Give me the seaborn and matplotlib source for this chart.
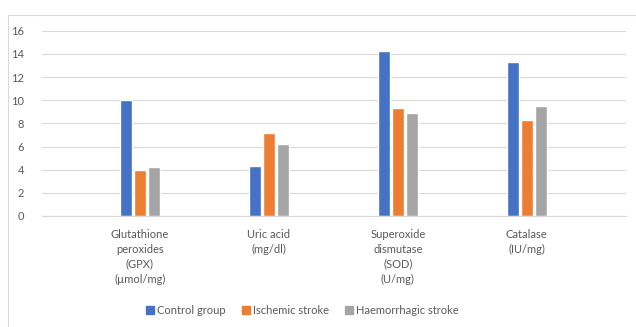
import matplotlib
matplotlib.use("Agg")
import matplotlib.pyplot as plt
import matplotlib.lines as mlines
import seaborn as sns
import pandas as pd

# Data
categories = [
    "Glutathione\nperoxides\n(GPX)\n(\u00b5mol/mg)",
    "Uric acid\n(mg/dl)",
    "Superoxide\ndismutase\n(SOD)\n(U/mg)",
    "Catalase\n(IU/mg)",
]
groups = ["Control group", "Ischemic stroke", "Haemorrhagic stroke"]
control = [10.0, 4.33, 14.25, 13.3]
ischemic = [4.0, 7.2, 9.3, 8.33]
haemorrhagic = [4.2, 6.23, 8.9, 9.5]
colors = ["#4472C4", "#ED7D31", "#A5A5A5"]

rows = []
for grp, vals in zip(groups, [control, ischemic, haemorrhagic]):
    for cat, v in zip(categories, vals):
        rows.append({"category": cat, "group": grp, "value": v})
df = pd.DataFrame(rows)

sns.set_style("white")
plt.rcParams["font.family"] = ["Lato", "DejaVu Sans"]

fig = plt.figure(figsize=(6.36, 3.27), dpi=100)
W, H = 636, 327
ax = fig.add_axes([42 / W, 111 / H, 584 / W, (216 - 30.7) / H])

sns.barplot(
    data=df,
    x="category",
    y="value",
    hue="group",
    hue_order=groups,
    palette=colors,
    width=0.33,
    gap=0.15,
    saturation=1,
    ax=ax,
    legend=False
)

ax.set_ylim(0, 16)
ax.set_xlim(-0.76, 3.77)
ax.set_yticks(range(0, 17, 2))
ax.yaxis.grid(True, color="#d9d9d9", linewidth=0.8)
ax.set_axisbelow(True)
for s in ["top", "right", "left"]:
    ax.spines[s].set_visible(False)
ax.spines["bottom"].set_color("#d9d9d9")
ax.spines["bottom"].set_linewidth(0.8)
ax.tick_params(axis="both", length=0, colors="#595959", labelsize=8)
ax.tick_params(axis="y", pad=13)
ax.tick_params(axis="x", pad=9)
for lbl in ax.get_xticklabels():
    lbl.set_linespacing(1.45)
ax.set_xlabel("")
ax.set_ylabel("")

# Legend
handles = [
    mlines.Line2D([], [], marker="s", linestyle="", color=c, markersize=6)
    for c in colors
]
fig.legend(
    handles,
    groups,
    loc="center",
    bbox_to_anchor=(302 / W, 1 - 310 / H),
    ncol=3,
    frameon=False,
    fontsize=8,
    handlelength=0.8,
    handletextpad=0.2,
    columnspacing=1.45,
    labelcolor="#595959"
)

# Chart border (left and top)
fig.add_artist(mlines.Line2D([8 / W, 8 / W], [0, 1 - 15 / H], color="#d9d9d9", lw=0.8))
fig.add_artist(mlines.Line2D([8 / W, 1], [1 - 15 / H, 1 - 15 / H], color="#d9d9d9", lw=0.8))

fig.savefig("out.png", dpi=100)
plt.close(fig)
